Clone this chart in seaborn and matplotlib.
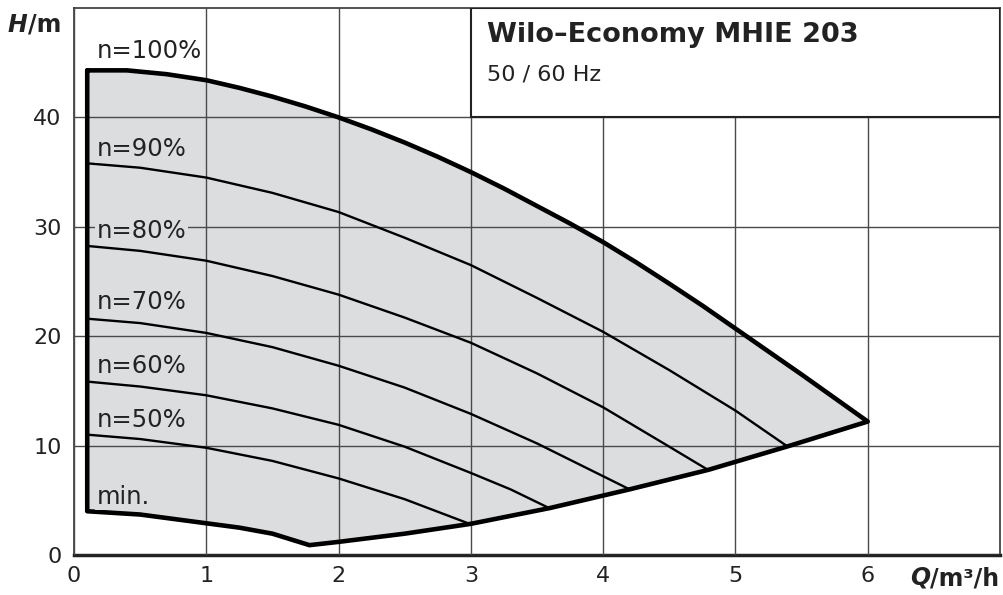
import pandas as pd
import seaborn as sns
import matplotlib.pyplot as plt
from matplotlib.patches import Rectangle

# pump curves, Q in m3/h, H in m
q_100 = [0.1, 0.4, 0.7, 1.0, 1.25, 1.5, 1.75, 2.0, 2.25, 2.5, 2.75, 3.0, 3.25,
         3.5, 3.75, 4.0, 4.25, 4.5, 4.75, 5.0, 5.25, 5.5, 5.75, 6.0]
h_100 = [44.3, 44.3, 43.95, 43.4, 42.7, 41.9, 41.0, 40.0, 38.9, 37.7, 36.4, 35.0,
         33.5, 31.9, 30.3, 28.6, 26.75, 24.8, 22.8, 20.7, 18.6, 16.5, 14.35, 12.2]

q_90 = [0.1, 0.5, 1.0, 1.5, 2.0, 2.5, 3.0, 3.5, 4.0, 4.5, 5.0, 5.39]
h_90 = [35.8, 35.4, 34.5, 33.1, 31.35, 29.0, 26.5, 23.5, 20.4, 16.9, 13.2, 9.95]

q_80 = [0.1, 0.5, 1.0, 1.5, 2.0, 2.5, 3.0, 3.5, 4.0, 4.5, 4.79]
h_80 = [28.25, 27.8, 26.9, 25.5, 23.8, 21.7, 19.4, 16.6, 13.5, 9.9, 7.8]

q_70 = [0.1, 0.5, 1.0, 1.5, 2.0, 2.5, 3.0, 3.5, 4.0, 4.2]
h_70 = [21.6, 21.2, 20.3, 19.0, 17.3, 15.3, 12.9, 10.2, 7.2, 6.0]

q_60 = [0.1, 0.5, 1.0, 1.5, 2.0, 2.5, 3.0, 3.3, 3.59]
h_60 = [15.85, 15.4, 14.6, 13.4, 11.9, 9.9, 7.5, 6.0, 4.3]

q_50 = [0.1, 0.5, 1.0, 1.5, 2.0, 2.5, 2.99]
h_50 = [11.0, 10.6, 9.8, 8.6, 7.0, 5.1, 2.85]

q_min = [0.1, 0.5, 1.0, 1.25, 1.5, 1.78, 2.0, 2.5, 3.0, 3.6, 4.2, 4.8, 5.4, 6.0]
h_min = [4.0, 3.7, 2.9, 2.5, 1.95, 0.9, 1.2, 1.95, 2.85, 4.3, 6.0, 7.8, 9.95, 12.2]

speed_labels = ["n=100%", "n=90%", "n=80%", "n=70%", "n=60%", "n=50%", "min."]
label_h = [46.1, 37.1, 29.6, 23.1, 17.3, 12.3, 5.3]

x_ticks = [0, 1, 2, 3, 4, 5, 6]
y_ticks = [0, 10, 20, 30, 40]

title = "Wilo–Economy MHIE 203"
subtitle = "50 / 60 Hz"

fill_col = "#dcdddf"
grid_col = "#4a4a4a"

sns.set_style("white")
plt.rcParams['font.family'] = ['DejaVu Sans']

fig = plt.figure(figsize=(10.04, 5.95), dpi=100)
ax = fig.add_axes([74 / 1004, 40 / 595, 926 / 1004, 547 / 595])

# working range = between 100% curve and min curve
outline_q = q_100 + q_min[::-1] + [q_100[0]]
outline_h = h_100 + h_min[::-1] + [h_100[0]]
ax.fill(outline_q, outline_h, color=fill_col, lw=0, zorder=1)

thin = pd.concat([
    pd.DataFrame({"Q": q, "H": h, "curve": name})
    for q, h, name in [(q_90, h_90, "90"), (q_80, h_80, "80"), (q_70, h_70, "70"),
                       (q_60, h_60, "60"), (q_50, h_50, "50")]
])
sns.lineplot(data=thin, x="Q", y="H", units="curve", estimator=None, sort=False,
             color="black", lw=1.7, ax=ax, zorder=4)

outline = pd.DataFrame({"Q": outline_q, "H": outline_h})
sns.lineplot(data=outline, x="Q", y="H", estimator=None, sort=False,
             color="black", lw=3.3, ax=ax, zorder=5)

for i, (lab, y) in enumerate(zip(speed_labels, label_h)):
    bg = "white" if i == 0 else fill_col
    ax.text(0.17, y, lab, fontsize=17.5, va="center", ha="left", color="#222222",
            zorder=6, bbox=dict(facecolor=bg, edgecolor="none", pad=1))

ax.set_xlim(0, 7)
ax.set_ylim(0, 50)
ax.set_xticks(x_ticks)
ax.set_yticks(y_ticks)
ax.set_xlabel("")
ax.set_ylabel("")
ax.set_axisbelow(False)
ax.grid(True, color=grid_col, lw=1.0, zorder=2.5)
for s in ax.spines.values():
    s.set_color("#333333")
    s.set_linewidth(1.2)
ax.spines["bottom"].set_linewidth(2.5)
ax.spines["bottom"].set_color("#222222")
ax.tick_params(length=0, labelsize=16, labelcolor="#222222")
ax.tick_params(axis="x", pad=8)
ax.tick_params(axis="y", pad=9)

# header box
ax.add_patch(Rectangle((3, 40), 4, 10, facecolor="white", edgecolor="#222222",
                       lw=1.5, zorder=3))
ax.text(3.12, 47.5, title, fontsize=19.5, fontweight="bold", color="#222222",
        va="center", ha="left", zorder=6)
ax.text(3.12, 43.9, subtitle, fontsize=16, color="#222222", va="center",
        ha="left", zorder=6)

# axis titles
h1 = fig.text(8 / 1004, 1 - 25 / 595, "H", fontsize=17, fontweight="bold",
              fontstyle="italic", va="center", ha="left", color="#222222")
ax.annotate("/m", xy=(1, 0.5), xycoords=h1, va="center", ha="left",
            fontsize=17, fontweight="bold", color="#222222", annotation_clip=False)
q1 = fig.text(910 / 1004, 1 - 578 / 595, "Q", fontsize=17, fontweight="bold",
              fontstyle="italic", va="center", ha="left", color="#222222")
ax.annotate("/m³/h", xy=(1, 0.5), xycoords=q1, va="center", ha="left",
            fontsize=17, fontweight="bold", color="#222222", annotation_clip=False)

fig.savefig("out.png", dpi=100)
